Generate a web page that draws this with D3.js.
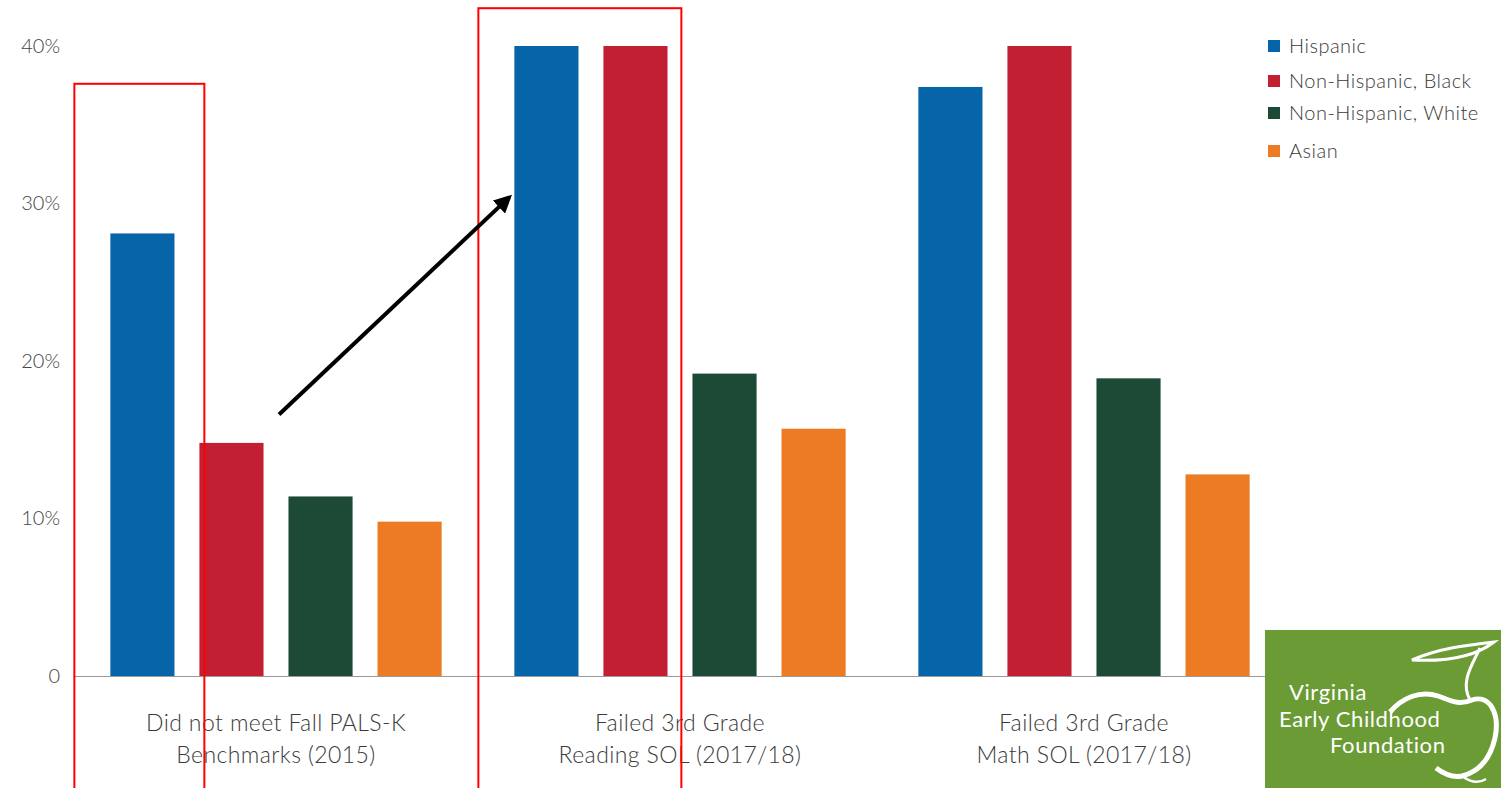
<!DOCTYPE html>
<html>
<head>
<meta charset="utf-8">
<script src="https://cdn.jsdelivr.net/npm/d3@7"></script>
<style>
  html, body { margin: 0; padding: 0; background: #ffffff; }
  svg { display: block; }
  text { font-family: Lato, "Open Sans", sans-serif; }
</style>
</head>
<body>
<svg id="chart" width="1501" height="788"></svg>
<script>
// ---- data ----
const categories = [
  ["Did not meet Fall PALS-K", "Benchmarks (2015)"],
  ["Failed 3rd Grade", "Reading SOL (2017/18)"],
  ["Failed 3rd Grade", "Math SOL (2017/18)"]
];
const seriesNames = ["Hispanic", "Non-Hispanic, Black", "Non-Hispanic, White", "Asian"];
const hispanic = [28.1, 40, 37.4];
const black = [14.8, 40, 40];
const white = [11.4, 19.2, 18.9];
const asian = [9.8, 15.7, 12.8];
const yTicks = [0, 10, 20, 30, 40];
const yTickLabels = ["0", "10%", "20%", "30%", "40%"];
const colors = ["#0665a9", "#c31f33", "#1c4a37", "#ec7b24"];

const seriesValues = [hispanic, black, white, asian];
const svg = d3.select("#chart");

const groupIdx = categories.map((d, i) => i);
const x0 = d3.scaleBand().domain(groupIdx).range([74, 1286]).paddingInner(0.18).paddingOuter(0.09);
const x1 = d3.scaleBand().domain(seriesNames).range([0, x0.bandwidth()]).paddingInner(0.28).paddingOuter(0);
const y = d3.scaleLinear().domain([0, 40]).range([676, 46]);

// y tick labels
const yAxis = d3.axisLeft(y).tickValues(yTicks).tickFormat((d, i) => yTickLabels[i]).tickSize(0).tickPadding(0);
const ya = svg.append("g").attr("transform", "translate(60,0)").call(yAxis);
ya.select(".domain").remove();
ya.selectAll("text").attr("font-size", 20).attr("fill", "#444").attr("font-weight", 300)
  .attr("font-family", "Lato, 'Open Sans', sans-serif");

// bars
const groups = svg.append("g").selectAll("g").data(groupIdx).join("g")
  .attr("transform", d => `translate(${x0(d)},0)`);
groups.selectAll("rect").data(gi => seriesNames.map((s, si) => ({ s, si, v: seriesValues[si][gi] })))
  .join("rect")
  .attr("x", d => x1(d.s))
  .attr("width", x1.bandwidth())
  .attr("y", d => y(d.v))
  .attr("height", d => y(0) - y(d.v))
  .attr("fill", d => colors[d.si]);

// baseline
svg.append("line").attr("x1", 75).attr("x2", 1266).attr("y1", y(0) + 0.5).attr("y2", y(0) + 0.5)
  .attr("stroke", "#9a9a9a").attr("stroke-width", 1);

// category labels
const xa = svg.append("g");
categories.forEach((lines, i) => {
  const cx = x0(i) + x0.bandwidth() / 2;
  lines.forEach((t, li) => {
    xa.append("text").attr("x", cx).attr("y", 731 + li * 32).attr("text-anchor", "middle")
      .attr("font-size", 23).attr("letter-spacing", 0.4).attr("font-weight", 300).attr("fill", "#3a3a3a").text(t);
  });
});

// legend
const legendY = [46, 81, 113, 151];
const lg = svg.append("g");
seriesNames.forEach((s, i) => {
  lg.append("rect").attr("x", 1268).attr("y", legendY[i] - 6).attr("width", 12).attr("height", 12).attr("fill", colors[i]);
  lg.append("text").attr("x", 1289).attr("y", legendY[i] + 7).attr("font-size", 20).attr("letter-spacing", 0.5)
    .attr("font-weight", 300).attr("fill", "#3a3a3a").text(s);
});

// annotation: red boxes
svg.append("rect").attr("x", x0(0) - 36).attr("y", y(37.6)).attr("width", 130).attr("height", 760)
  .attr("fill", "none").attr("stroke", "#ff0000").attr("stroke-width", 2);
svg.append("rect").attr("x", x0(1) - 36).attr("y", y(42.4)).attr("width", 203).attr("height", 800)
  .attr("fill", "none").attr("stroke", "#ff0000").attr("stroke-width", 2);

// annotation: arrow
const defs = svg.append("defs");
defs.append("marker").attr("id", "ah").attr("viewBox", "0 0 10 10").attr("refX", 8).attr("refY", 5)
  .attr("markerWidth", 4.5).attr("markerHeight", 4.5).attr("orient", "auto")
  .append("path").attr("d", "M0,0 L10,5 L0,10 Z").attr("fill", "#000");
svg.append("line").attr("x1", x0(0) + x0.bandwidth() / 2 + 3).attr("y1", y(16.6))
  .attr("x2", x0(1) - 5).attr("y2", y(30.4))
  .attr("stroke", "#000").attr("stroke-width", 4).attr("marker-end", "url(#ah)");

// logo
const logo = svg.append("g");
logo.append("rect").attr("x", 1265).attr("y", 630).attr("width", 236).attr("height", 158).attr("fill", "#6a9b35");
logo.append("path")
  .attr("d", "M1390,712 C1402,698 1420,690 1438,696 C1450,700 1458,706 1472,700 C1490,694 1500,714 1495,738 C1490,760 1478,772 1462,776 C1452,778 1444,774 1436,768")
  .attr("fill", "none").attr("stroke", "#fff").attr("stroke-width", 5);
logo.append("path")
  .attr("d", "M1412,660 C1440,648 1468,645 1494,642 C1476,656 1450,662 1412,660 Z")
  .attr("fill", "none").attr("stroke", "#fff").attr("stroke-width", 3);
logo.append("path")
  .attr("d", "M1480,648 C1472,665 1460,682 1470,700")
  .attr("fill", "none").attr("stroke", "#fff").attr("stroke-width", 3);
logo.append("path")
  .attr("d", "M1462,776 C1470,782 1478,784 1486,779")
  .attr("fill", "none").attr("stroke", "#fff").attr("stroke-width", 2.5);
const lt = [["Virginia", 1289, 700], ["Early Childhood", 1279, 727], ["Foundation", 1330, 753]];
lt.forEach(([t, xx, yy]) => {
  logo.append("text").attr("x", xx).attr("y", yy).attr("font-size", 22).attr("fill", "#fff")
    .attr("font-family", "Lato, 'Open Sans', sans-serif").attr("letter-spacing", 0.6).text(t);
});
</script>
</body>
</html>
